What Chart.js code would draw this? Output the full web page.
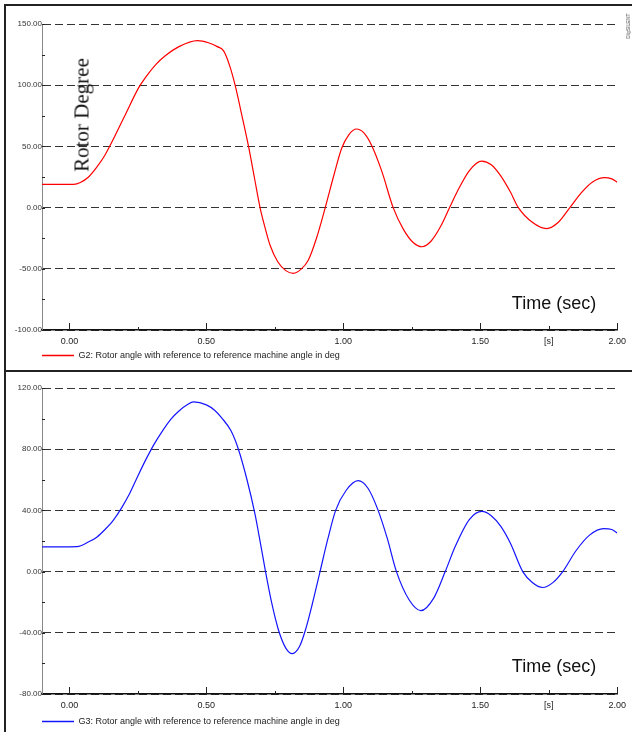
<!DOCTYPE html>
<html>
<head>
<meta charset="utf-8">
<title>Rotor angle G2 / G3</title>
<script src="https://cdn.jsdelivr.net/npm/chart.js@4"></script>
<style>
  html, body { margin: 0; padding: 0; background: #fff; overflow: hidden; }
  body { width: 632px; height: 732px; position: relative; font-family: Arial, "Liberation Sans", sans-serif; }
  .panel { position: absolute; left: 6px; width: 626px; }
  #panel1 { top: 6px; height: 364px; }
  #panel2 { top: 371px; height: 365px; }
  .rule { position: absolute; background: #222; }
  .note { position: absolute; white-space: nowrap; color: #111; transform: translate(-50%, -50%); }
  .time { font-size: 18px; }
  .ylab { font-family: "Liberation Serif", "Times New Roman", serif; font-size: 21px; transform: translate(-50%, -50%) rotate(-90deg); }
  .mark { font-size: 5px; color: #555; transform: translate(-50%, -50%) rotate(-90deg); }
</style>
</head>
<body>
<div class="rule" style="left:4px; top:4px; width:628px; height:2px;"></div>
<div class="rule" style="left:4px; top:4px; width:2px; height:728px;"></div>
<div class="rule" style="left:4px; top:370px; width:628px; height:2px;"></div>

<div class="panel" id="panel1"><canvas id="chart1"></canvas></div>
<div class="panel" id="panel2"><canvas id="chart2"></canvas></div>

<div class="note ylab" style="left:82px; top:115px;">Rotor Degree</div>
<div class="note time" style="left:554px; top:303px;">Time (sec)</div>
<div class="note time" style="left:554px; top:666px;">Time (sec)</div>
<div class="note mark" style="left:628px; top:26px;">DIgSILENT</div>

<script>
// shared time axis
var xTickValues = [0, 0.25, 0.5, 0.75, 1, 1.25, 1.5, 1.75, 2];
var xTickLabels = ["0.00", "", "0.50", "", "1.00", "", "1.50", "[s]", "2.00"];

// G2 rotor angle (deg)
var g2Ticks = [-100, -75, -50, -25, 0, 25, 50, 75, 100, 125, 150];
var g2Time = [-0.1, 0, 0.016, 0.04, 0.07, 0.1, 0.13, 0.2, 0.253, 0.28, 0.316, 0.35, 0.4, 0.467, 0.51, 0.54,
  0.563, 0.585, 0.605, 0.63, 0.654, 0.675, 0.696, 0.715, 0.733, 0.76, 0.79, 0.818, 0.845, 0.872, 0.902,
  0.934, 0.965, 0.994, 1.02, 1.048, 1.075, 1.103, 1.14, 1.182, 1.22, 1.255, 1.287, 1.32, 1.355, 1.388,
  1.418, 1.461, 1.505, 1.54, 1.576, 1.61, 1.639, 1.69, 1.742, 1.785, 1.827, 1.87, 1.91, 1.954, 1.98, 2.0];
var g2Angle = [19, 19, 19, 20.5, 25, 33, 43, 74, 98, 107, 117, 124, 131.5, 136.4, 134.5, 131.5,
  128, 116, 100, 75, 50, 25, 0, -17, -31, -44, -51.5, -53.7, -50.5, -43, -25,
  0, 26, 48.5, 59.5, 64.2, 61, 51, 30, 0, -18, -28.5, -32, -27.5, -15.5, 0,
  14, 30.5, 38, 35, 25.5, 12.7, 0, -12, -17.2, -12, 0, 12.5, 21, 24.5, 23.5, 20.8];

// G3 rotor angle (deg)
var g3Ticks = [-80, -60, -40, -20, 0, 20, 40, 60, 80, 100, 120];
var g3Time = [-0.1, 0, 0.028, 0.071, 0.1, 0.13, 0.16, 0.19, 0.22, 0.25, 0.28, 0.31, 0.34, 0.37, 0.4, 0.43,
  0.453, 0.5, 0.53, 0.556, 0.59, 0.617, 0.647, 0.677, 0.697, 0.716, 0.738, 0.763, 0.79, 0.814, 0.84, 0.862,
  0.887, 0.915, 0.943, 0.972, 1.01, 1.054, 1.09, 1.125, 1.16, 1.194, 1.24, 1.283, 1.33, 1.372, 1.41,
  1.46, 1.506, 1.54, 1.575, 1.61, 1.655, 1.69, 1.728, 1.765, 1.801, 1.85, 1.9, 1.95, 1.98, 2.0];
var g3Angle = [16.2, 16.2, 16.3, 19.5, 22.5, 27.5, 33.5, 41.5, 51, 62.5, 73.5, 83.5, 92, 99.5, 105, 109,
  110.9, 109, 105.5, 100.5, 92, 80, 61, 38, 19, 0, -20, -38, -50, -53.6, -49, -38,
  -21, 0, 21, 40, 53, 59.4, 54.5, 41, 22, 0, -18.4, -25.5, -17.3, 0, 17,
  34, 39.3, 36.5, 29.5, 18.5, 0, -7.1, -10.4, -7.2, 0, 13.8, 24, 28.1, 27.5, 25.3];

Chart.defaults.font.family = 'Arial, "Liberation Sans", sans-serif';
Chart.defaults.font.size = 8;
Chart.defaults.color = '#222';

// small tick marks drawn on the axis lines
const axisMarks = {
  id: 'axisMarks',
  afterDraw(chart) {
    const { ctx, chartArea, scales: { x, y } } = chart;
    ctx.save();
    ctx.strokeStyle = '#222';
    ctx.lineWidth = 1;
    ctx.beginPath();
    x.ticks.forEach((t, i) => {
      const px = Math.round(x.getPixelForValue(t.value)) + 0.5;
      const lab = xTickLabels[i];
      const len = lab === '' ? 3 : (lab === '[s]' ? 4 : 7);
      ctx.moveTo(px, chartArea.bottom);
      ctx.lineTo(px, chartArea.bottom - len);
    });
    y.ticks.forEach(t => {
      const py = Math.round(y.getPixelForValue(t.value)) + 0.5;
      ctx.moveTo(chartArea.left, py);
      ctx.lineTo(chartArea.left + 3, py);
    });
    ctx.stroke();
    ctx.restore();
  }
};

function makePanel(id, times, values, color, legendText, yTicks, yMajor, topPad, xAxisHeight) {
  return new Chart(id, {
    type: 'line',
    data: {
      datasets: [{
        label: legendText,
        data: times.map((t, i) => ({ x: t, y: values[i] })),
        borderColor: color,
        backgroundColor: color,
        borderWidth: 1.2,
        pointRadius: 0,
        cubicInterpolationMode: 'monotone'
      }]
    },
    options: {
      responsive: true,
      maintainAspectRatio: false,
      animation: false,
      layout: { padding: { left: 0, right: 12, top: topPad, bottom: 0 } },
      scales: {
        x: {
          type: 'linear',
          min: -0.1,
          max: 2.0,
          afterBuildTicks: s => { s.ticks = xTickValues.map(v => ({ value: v })); },
          afterFit: s => { s.height = xAxisHeight; },
          ticks: { autoSkip: false, maxRotation: 0, padding: 6, font: { size: 9 }, callback: (v, i) => xTickLabels[i] },
          grid: { display: false, drawTicks: false },
          border: { color: '#111', width: 1.5 }
        },
        y: {
          min: yTicks[0],
          max: yTicks[yTicks.length - 1],
          afterBuildTicks: s => { s.ticks = yTicks.map(v => ({ value: v })); },
          afterFit: s => { s.width = 36; },
          ticks: { padding: 0, color: '#333', callback: v => (v % yMajor === 0 ? v.toFixed(2) : '') },
          grid: {
            drawTicks: false,
            lineWidth: 1,
            color: c => (c.tick && c.tick.value % yMajor === 0 ? '#333' : 'rgba(0,0,0,0)')
          },
          border: { color: '#888', width: 1, dash: [8, 4] }
        }
      },
      plugins: {
        legend: {
          position: 'bottom',
          align: 'start',
          fullSize: false,
          labels: {
            boxWidth: 32,
            boxHeight: 1.6,
            padding: 0,
            color: '#222',
            font: { size: 9 },
            generateLabels: chart => Chart.defaults.plugins.legend.labels.generateLabels(chart)
              .map(l => Object.assign(l, {
                lineWidth: 0,
                fillStyle: chart.data.datasets[l.datasetIndex].borderColor
              }))
          }
        },
        tooltip: { enabled: false }
      }
    },
    plugins: [axisMarks]
  });
}

makePanel('chart1', g2Time, g2Angle, 'rgb(255,0,0)',
  'G2: Rotor angle with reference to reference machine angle in deg', g2Ticks, 50, 18, 21);
makePanel('chart2', g3Time, g3Angle, 'rgb(20,20,255)',
  'G3: Rotor angle with reference to reference machine angle in deg', g3Ticks, 40, 17, 23);
</script>
</body>
</html>
